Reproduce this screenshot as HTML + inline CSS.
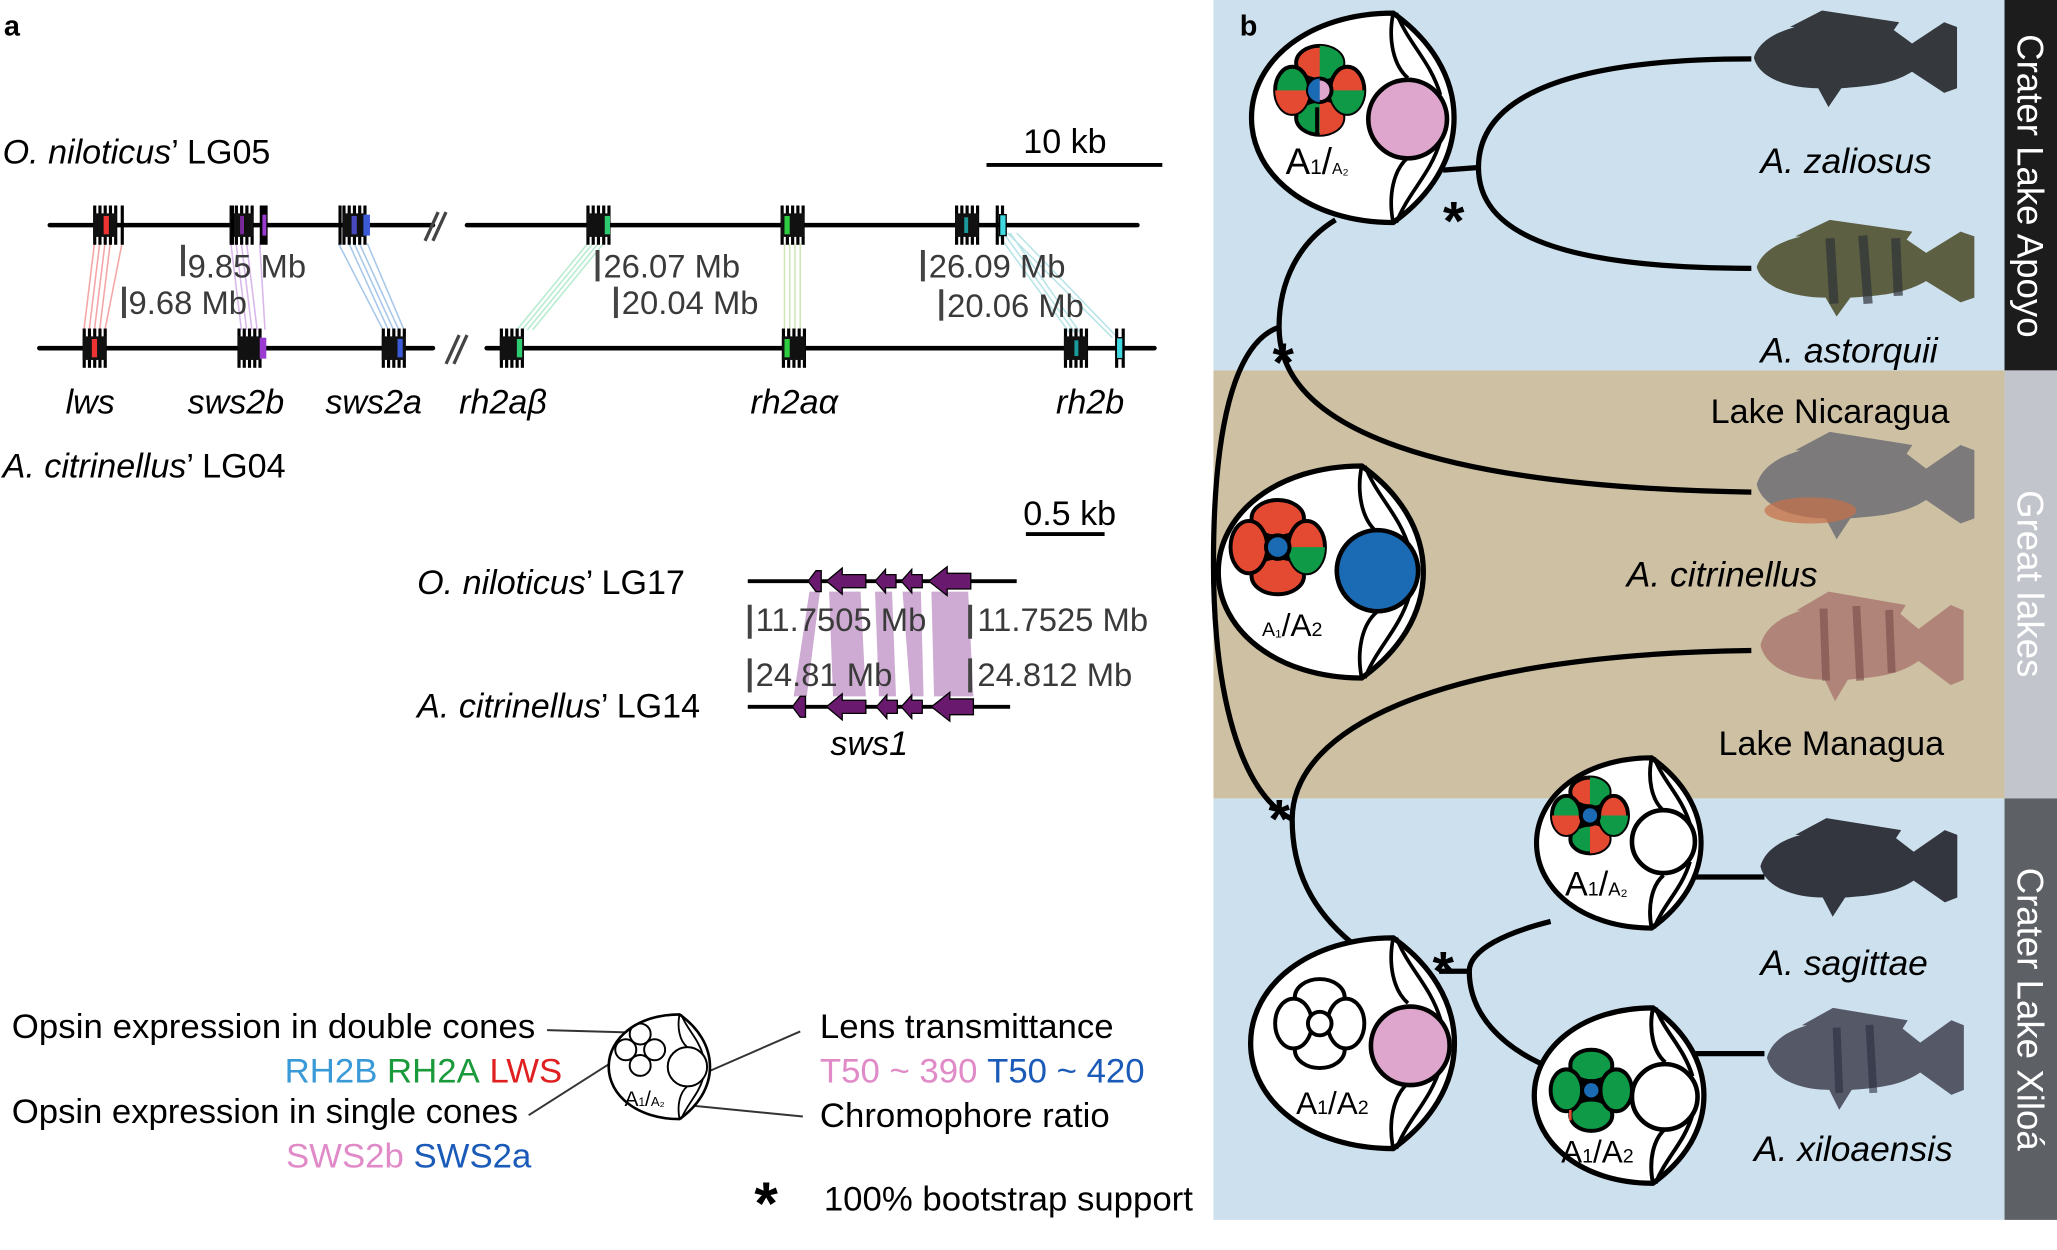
<!DOCTYPE html>
<html><head><meta charset="utf-8"><style>
html,body{margin:0;padding:0;background:#fff;}
svg{display:block;}
text{font-family:"Liberation Sans",sans-serif;}
</style></head><body>
<svg width="2057" height="1250" viewBox="0 0 1568 955" preserveAspectRatio="none" xmlns="http://www.w3.org/2000/svg">
<defs>
<g id="cl">
<rect x="-9" y="-15" width="2.4" height="30" fill="#000"/>
<rect x="-5" y="-15" width="2.4" height="30" fill="#000"/>
<rect x="-1" y="-15" width="2.4" height="30" fill="#000"/>
<rect x="3" y="-15" width="2.4" height="30" fill="#000"/>
<rect x="7" y="-15" width="2.4" height="30" fill="#000"/>
<rect x="-9" y="-9" width="18" height="18" fill="#111"/>
</g>
<path id="eyeo" d="M0,-1 C-0.8,-1 -1.35,-0.55 -1.35,0 C-1.35,0.55 -0.8,1 0,1 C0.35,0.75 0.58,0.4 0.58,0 C0.58,-0.4 0.35,-0.75 0,-1 Z"/>
<path id="eyei" d="M0,-1 C-0.05,-0.75 0,-0.5 0.14,-0.38 M0.03,-1 C0.15,-0.7 0.35,-0.55 0.45,-0.22 M0,1 C-0.05,0.75 0,0.5 0.14,0.38 M0.03,1 C0.15,0.7 0.35,0.55 0.45,0.22"/>
<path id="fish" d="M2,40 C8,18 40,8 80,10 L110,16 L125,28 L150,10 L160,14 L160,66 L150,70 L125,52 C110,62 95,64 70,66 L60,82 L52,66 C30,66 6,58 2,40 Z M30,14 L55,0 L115,10 L110,18 Z"/>
</defs>

<!-- ================= PANEL A ================= -->
<text x="3" y="27" font-size="22" font-weight="bold">a</text>
<text x="2" y="125" font-size="26"><tspan font-style="italic">O. niloticus</tspan>’ LG05</text>
<text x="780" y="117" font-size="26">10 kb</text>
<line x1="752" y1="126" x2="886" y2="126" stroke="#000" stroke-width="3"/>

<g stroke-width="1.2" fill="none">
<g stroke="#f4a6a6"><path d="M72,186 L64,252 M76,186 L68,252 M80,186 L72,252 M84,186 L76,252 M93,186 L80,252"/></g>
<g stroke="#d9b8ea"><path d="M176,186 L184,252 M180,186 L188,252 M184,186 L192,252 M188,186 L196,252 M198,186 L202,252"/></g>
<g stroke="#a8c8ea"><path d="M258,186 L292,252 M266,186 L296,252 M270,186 L300,252 M274,186 L304,252 M280,186 L308,252"/></g>
<g stroke="#b8ecd0"><path d="M448,186 L394,252 M452,186 L398,252 M456,186 L402,252 M460,186 L406,252"/></g>
<g stroke="#cfe6b8"><path d="M598,186 L598,252 M602,186 L602,252 M606,186 L606,252 M610,186 L610,252"/></g>
<g stroke="#b8e4e8"><path d="M760,178 L818,258 M765,178 L822,258 M770,178 L826,258 M775,178 L852,258 M768,178 L848,258"/></g>
</g>

<g stroke="#000" stroke-width="3.5" stroke-linecap="round">
<line x1="38" y1="172" x2="330" y2="172"/>
<line x1="356" y1="172" x2="867" y2="172"/>
<line x1="30" y1="266" x2="330" y2="266"/>
<line x1="371" y1="266" x2="880" y2="266"/>
</g>
<g stroke="#444" stroke-width="2.5">
<line x1="324" y1="184" x2="334" y2="162"/><line x1="330" y1="184" x2="340" y2="162"/>
<line x1="340" y1="278" x2="350" y2="256"/><line x1="346" y1="278" x2="356" y2="256"/>
</g>

<use href="#cl" x="80" y="172"/><rect x="79" y="165" width="4" height="14" fill="#e33"/><rect x="92" y="157" width="2.4" height="30"/>
<use href="#cl" x="184" y="172"/><rect x="183" y="165" width="3" height="14" fill="#7a2a9a"/><rect x="198" y="157" width="6" height="30" fill="#000"/><rect x="200" y="164" width="3" height="16" fill="#9a3ad0"/><rect x="176" y="157" width="2.4" height="30"/>
<use href="#cl" x="270" y="172"/><rect x="268" y="165" width="4" height="14" fill="#4a4ac0"/><rect x="277" y="164" width="5" height="16" fill="#3a5ad8"/><rect x="258" y="157" width="2.4" height="30"/>
<use href="#cl" x="456" y="172"/><rect x="461" y="165" width="4" height="14" fill="#2ecc71"/>
<use href="#cl" x="604" y="172"/><rect x="598" y="165" width="4" height="14" fill="#2ecc40"/>
<use href="#cl" x="737" y="172"/><rect x="735" y="166" width="3" height="12" fill="#1a9a9a"/>
<rect x="759" y="157" width="2.4" height="30"/><rect x="763" y="157" width="2.4" height="30"/><rect x="762" y="164" width="5" height="16" fill="#40d8e0" stroke="#000" stroke-width="1"/>
<use href="#cl" x="72" y="266"/><rect x="70" y="259" width="4" height="14" fill="#e33"/>
<use href="#cl" x="190" y="266"/><rect x="198" y="258" width="5" height="16" fill="#9a3ad0"/>
<use href="#cl" x="300" y="266"/><rect x="303" y="259" width="4" height="14" fill="#3a5ad8"/>
<use href="#cl" x="390" y="266"/><rect x="394" y="259" width="4" height="14" fill="#2ecc71"/>
<use href="#cl" x="605" y="266"/><rect x="598" y="259" width="4" height="14" fill="#2ecc40"/>
<use href="#cl" x="820" y="266"/><rect x="819" y="260" width="3" height="12" fill="#1a9a9a"/>
<rect x="850" y="251" width="2.4" height="30"/><rect x="855" y="251" width="2.4" height="30"/><rect x="851" y="258" width="5" height="16" fill="#40d8e0" stroke="#000" stroke-width="1"/>

<g font-size="25" fill="#3a3a3a">
<rect x="138" y="187" width="3" height="24" fill="#444"/><text x="143" y="212">9.85 Mb</text>
<rect x="93" y="219" width="3" height="24" fill="#444"/><text x="98" y="240">9.68 Mb</text>
<rect x="454" y="191" width="3" height="24" fill="#444"/><text x="460" y="212">26.07 Mb</text>
<rect x="468" y="219" width="3" height="24" fill="#444"/><text x="474" y="240">20.04 Mb</text>
<rect x="702" y="191" width="3" height="24" fill="#444"/><text x="708" y="212">26.09 Mb</text>
<rect x="716" y="221" width="3" height="24" fill="#444"/><text x="722" y="242">20.06 Mb</text>
</g>
<g font-size="26" font-style="italic">
<text x="50" y="316">lws</text>
<text x="143" y="316">sws2b</text>
<text x="248" y="316">sws2a</text>
<text x="350" y="316">rh2aβ</text>
<text x="572" y="316">rh2aα</text>
<text x="805" y="316">rh2b</text>
</g>
<text x="2" y="365" font-size="26"><tspan font-style="italic">A. citrinellus</tspan>’ LG04</text>

<text x="780" y="401" font-size="26">0.5 kb</text>
<line x1="782" y1="408" x2="842" y2="408" stroke="#000" stroke-width="3"/>
<text x="318" y="454" font-size="26"><tspan font-style="italic">O. niloticus</tspan>’ LG17</text>
<text x="318" y="548" font-size="26"><tspan font-style="italic">A. citrinellus</tspan>’ LG14</text>
<g fill="#c9a2cf" opacity="0.9">
<polygon points="617,452 625,452 615,532 605,532"/>
<polygon points="632,452 656,452 660,532 635,532"/>
<polygon points="667,452 680,452 683,532 670,532"/>
<polygon points="688,452 702,452 704,532 694,532"/>
<polygon points="710,452 738,452 742,532 712,532"/>
</g>
<line x1="570" y1="444" x2="775" y2="444" stroke="#000" stroke-width="3"/>
<line x1="570" y1="540" x2="770" y2="540" stroke="#000" stroke-width="3"/>
<g fill="#6a1a6e" stroke="#000" stroke-width="1">
<polygon points="616,444 622,436 626,436 626,452 622,452"/>
<polygon points="630,444 642,434 642,439 660,439 660,449 642,449 642,454"/>
<polygon points="667,444 675,435 675,439 683,439 683,449 675,449 675,453"/>
<polygon points="687,444 695,435 695,439 703,439 703,449 695,449 695,453"/>
<polygon points="708,444 722,433 722,438 740,438 740,450 722,450 722,455"/>
<polygon points="604,540 610,532 614,532 614,548 610,548"/>
<polygon points="630,540 642,530 642,535 660,535 660,545 642,545 642,550"/>
<polygon points="668,540 676,531 676,535 684,535 684,545 676,545 676,549"/>
<polygon points="687,540 695,531 695,535 703,535 703,545 695,545 695,549"/>
<polygon points="710,540 724,529 724,534 742,534 742,546 724,546 724,551"/>
</g>
<g font-size="25" fill="#3a3a3a">
<rect x="570" y="462" width="3" height="26" fill="#444"/><text x="576" y="482">11.7505 Mb</text>
<rect x="738" y="462" width="3" height="26" fill="#444"/><text x="745" y="482">11.7525 Mb</text>
<rect x="570" y="503" width="3" height="26" fill="#444"/><text x="576" y="524">24.81 Mb</text>
<rect x="738" y="503" width="3" height="26" fill="#444"/><text x="745" y="524">24.812 Mb</text>
</g>
<text x="633" y="577" font-size="26" font-style="italic">sws1</text>

<g font-size="26.5">
<text x="9" y="793" textLength="399">Opsin expression in double cones</text>
<text x="217" y="827"><tspan fill="#3a9ad8">RH2B</tspan> <tspan fill="#1a9a3a">RH2A</tspan> <tspan fill="#e02020">LWS</tspan></text>
<text x="9" y="858" textLength="386">Opsin expression in single cones</text>
<text x="218" y="892"><tspan fill="#e08ac8">SWS2b</tspan> <tspan fill="#1a5ab8">SWS2a</tspan></text>
<text x="625" y="793">Lens transmittance</text>
<text x="625" y="827"><tspan fill="#e08ac8">T50 ~ 390</tspan>  <tspan fill="#1a5ab8">T50 ~ 420</tspan></text>
<text x="625" y="861">Chromophore ratio</text>
<text x="628" y="925">100% bootstrap support</text>
</g>
<text x="575" y="935" font-size="46" font-weight="bold">*</text>
<g stroke="#333" stroke-width="1.5" fill="none">
<line x1="417" y1="787" x2="487" y2="789"/>
<line x1="403" y1="852" x2="483" y2="801"/>
<line x1="610" y1="788" x2="530" y2="823"/>
<line x1="612" y1="853" x2="510" y2="843"/>
</g>
<g transform="translate(518,815) scale(40)">
<use href="#eyeo" fill="#fff" stroke="#000" stroke-width="0.05"/>
<use href="#eyei" fill="none" stroke="#000" stroke-width="0.035"/>
</g>
<g fill="none" stroke="#000" stroke-width="1.5">
<circle cx="524" cy="815" r="15"/>
<circle cx="488" cy="790" r="8"/><circle cx="477" cy="802" r="8"/><circle cx="499" cy="802" r="8"/><circle cx="488" cy="814" r="8"/>
</g>
<text x="476" y="845" font-size="16">A<tspan font-size="9">1</tspan>/<tspan font-size="10">A₂</tspan></text>

<!-- ================= PANEL B ================= -->
<rect x="925" y="0" width="603" height="283" fill="#cde0ee"/>
<rect x="925" y="283" width="603" height="327" fill="#cdc0a3"/>
<rect x="925" y="610" width="603" height="322" fill="#cde0ee"/>
<rect x="1528" y="0" width="40" height="283" fill="#1c1c1c"/>
<rect x="1528" y="283" width="40" height="327" fill="#c2c6cc"/>
<rect x="1528" y="610" width="40" height="322" fill="#5d6166"/>
<g font-size="28" fill="#fff">
<text transform="translate(1538,142) rotate(90)" text-anchor="middle">Crater Lake Apoyo</text>
<text transform="translate(1538,446) rotate(90)" text-anchor="middle">Great lakes</text>
<text transform="translate(1538,771) rotate(90)" text-anchor="middle">Crater Lake Xiloá</text>
</g>
<text x="945" y="27" font-size="22" font-weight="bold">b</text>

<g fill="none" stroke="#000" stroke-width="4">
<path d="M1100,130 L1127,128"/>
<path d="M1335,45 C1180,45 1127,80 1127,128 C1127,175 1180,205 1335,205"/>
<path d="M1018,168 C990,185 975,215 975,250 C975,330 1100,372 1335,376"/>
<path d="M975,250 C940,262 925,330 925,430 C925,530 945,605 985,626"/>
<path d="M1030,720 C1000,695 985,665 985,626 C985,555 1100,500 1335,497"/>
<path d="M1097,742 L1120,742"/>
<path d="M1182,704 C1150,712 1120,725 1120,742 C1120,775 1145,800 1180,815"/>
<path d="M1290,670 L1345,670"/>
<path d="M1288,805 L1345,805"/>
</g>
<g font-size="42" font-weight="bold">
<text x="1100" y="183">*</text>
<text x="970" y="291">*</text>
<text x="967" y="640">*</text>
<text x="1092" y="756">*</text>
</g>

<!-- eyes -->
<g transform="translate(1062,90) scale(80)"><use href="#eyeo" fill="#fff" stroke="#000" stroke-width="0.05"/><use href="#eyei" fill="none" stroke="#000" stroke-width="0.035"/></g>
<circle cx="1073" cy="91" r="30" fill="#dea6cc" stroke="#000" stroke-width="3.5"/>

<g transform="translate(1038,437) scale(81)"><use href="#eyeo" fill="#fff" stroke="#000" stroke-width="0.05"/><use href="#eyei" fill="none" stroke="#000" stroke-width="0.035"/></g>
<circle cx="1050" cy="436" r="31" fill="#1a6ab4" stroke="#000" stroke-width="3.5"/>

<g transform="translate(1062,797) scale(80.5)"><use href="#eyeo" fill="#fff" stroke="#000" stroke-width="0.05"/><use href="#eyei" fill="none" stroke="#000" stroke-width="0.035"/></g>
<circle cx="1075" cy="799" r="30" fill="#dea6cc" stroke="#000" stroke-width="3.5"/>

<g transform="translate(1259,644) scale(65)"><use href="#eyeo" fill="#fff" stroke="#000" stroke-width="0.06"/><use href="#eyei" fill="none" stroke="#000" stroke-width="0.045"/></g>
<circle cx="1268" cy="643" r="24" fill="#fff" stroke="#000" stroke-width="3.5"/>

<g transform="translate(1260,837) scale(67)"><use href="#eyeo" fill="#fff" stroke="#000" stroke-width="0.06"/><use href="#eyei" fill="none" stroke="#000" stroke-width="0.045"/></g>
<circle cx="1269" cy="838" r="25" fill="#fff" stroke="#000" stroke-width="3.5"/>

<!-- petals -->
<g stroke="#000" stroke-width="3">
<g transform="translate(6,-3)">
<rect x="982" y="54" width="36" height="36" fill="#000"/>
<ellipse cx="1000" cy="51" rx="18" ry="13" fill="#e44a32"/><path d="M1000,38 A18,13 0 0 1 1000,64 Z" fill="#0e9a46" stroke="none"/>
<ellipse cx="1000" cy="93" rx="18" ry="13" fill="#0e9a46"/><path d="M1000,80 A18,13 0 0 1 1000,106 Z" fill="#e44a32" stroke="none"/>
<ellipse cx="979" cy="72" rx="13" ry="18" fill="#0e9a46"/><path d="M966,72 A13,18 0 0 0 992,72 Z" fill="#e44a32" stroke="none"/>
<ellipse cx="1021" cy="72" rx="13" ry="18" fill="#e44a32"/><path d="M1008,72 A13,18 0 0 0 1034,72 Z" fill="#0e9a46" stroke="none"/>
<circle cx="1000" cy="72" r="9" fill="#dea6cc"/><path d="M1000,63 A9,9 0 0 0 1000,81 Z" fill="#1a6ab4" stroke="none"/>
<line x1="998" y1="85" x2="998" y2="106" stroke-width="3"/>
</g>
<rect x="956" y="400" width="36" height="36" fill="#000"/>
<ellipse cx="974" cy="396" rx="20" ry="14" fill="#e44a32"/>
<ellipse cx="974" cy="440" rx="20" ry="14" fill="#e44a32"/>
<ellipse cx="952" cy="418" rx="14" ry="20" fill="#e44a32"/>
<ellipse cx="996" cy="418" rx="14" ry="20" fill="#e44a32"/><path d="M982,418 A14,20 0 0 0 1010,418 Z" fill="#0e9a46" stroke="none"/>
<circle cx="974" cy="418" r="9" fill="#1a6ab4"/>
<rect x="1197" y="608" width="30" height="30" fill="#000"/>
<ellipse cx="1212" cy="605" rx="15" ry="11" fill="#e44a32"/><path d="M1212,594 A15,11 0 0 1 1212,616 Z" fill="#0e9a46" stroke="none"/>
<ellipse cx="1212" cy="641" rx="15" ry="11" fill="#0e9a46"/><path d="M1212,630 A15,11 0 0 1 1212,652 Z" fill="#e44a32" stroke="none"/>
<ellipse cx="1194" cy="623" rx="11" ry="15" fill="#0e9a46"/><path d="M1183,623 A11,15 0 0 0 1205,623 Z" fill="#e44a32" stroke="none"/>
<ellipse cx="1230" cy="623" rx="11" ry="15" fill="#e44a32"/><path d="M1219,623 A11,15 0 0 0 1241,623 Z" fill="#0e9a46" stroke="none"/>
<circle cx="1212" cy="623" r="7" fill="#1a6ab4"/>
<g transform="translate(6,-8)">
<rect x="983" y="773" width="34" height="34" fill="#000"/>
<ellipse cx="1000" cy="770" rx="19" ry="14" fill="#fff"/>
<ellipse cx="1000" cy="810" rx="19" ry="14" fill="#fff"/>
<ellipse cx="980" cy="790" rx="14" ry="19" fill="#fff"/>
<ellipse cx="1020" cy="790" rx="14" ry="19" fill="#fff"/>
<circle cx="1000" cy="790" r="9" fill="#fff"/>
</g>
<rect x="1197" y="817" width="32" height="32" fill="#000"/>
<ellipse cx="1213" cy="814" rx="16" ry="12" fill="#0e9a46"/>
<ellipse cx="1213" cy="852" rx="16" ry="12" fill="#0e9a46"/>
<ellipse cx="1194" cy="833" rx="12" ry="16" fill="#0e9a46"/>
<ellipse cx="1232" cy="833" rx="12" ry="16" fill="#0e9a46"/>
<circle cx="1213" cy="833" r="7" fill="#1a6ab4"/>
</g>
<rect x="1196" y="848" width="2" height="8" fill="#e44a32"/>
<g font-size="28">
<text x="980" y="133">A<tspan font-size="16">1</tspan>/<tspan font-size="12">A₂</tspan></text>
<text x="962" y="486" font-size="24"><tspan font-size="15">A₁</tspan>/A<tspan font-size="15">2</tspan></text>
<text x="988" y="851" font-size="24">A<tspan font-size="15">1</tspan>/A<tspan font-size="15">2</tspan></text>
<text x="1193" y="684" font-size="26">A<tspan font-size="15">1</tspan>/<tspan font-size="14">A₂</tspan></text>
<text x="1190" y="888" font-size="24">A<tspan font-size="15">1</tspan>/A<tspan font-size="15">2</tspan></text>
</g>

<!-- fish -->
<use href="#fish" transform="translate(1335,8) scale(0.98,0.9)" fill="#35383c"/>
<use href="#fish" transform="translate(1337,168) scale(1.05,0.9)" fill="#5d5f42"/>
<g stroke="#2e3338" stroke-width="7" opacity="0.7"><line x1="1395" y1="182" x2="1398" y2="232"/><line x1="1420" y1="180" x2="1424" y2="232"/><line x1="1445" y1="182" x2="1447" y2="226"/></g>
<use href="#fish" transform="translate(1337,330) scale(1.05,1.0)" fill="#7c7a7a"/>
<ellipse cx="1380" cy="390" rx="35" ry="10" fill="#c8704a" opacity="0.7"/>
<use href="#fish" transform="translate(1340,452) scale(0.98,1.02)" fill="#b08478"/>
<g stroke="#7a4a48" stroke-width="6" opacity="0.6"><line x1="1390" y1="465" x2="1392" y2="520"/><line x1="1415" y1="463" x2="1418" y2="520"/><line x1="1440" y1="466" x2="1442" y2="514"/></g>
<use href="#fish" transform="translate(1340,625) scale(0.95,0.92)" fill="#33353f"/>
<use href="#fish" transform="translate(1345,770) scale(0.95,0.95)" fill="#555867"/>
<g stroke="#2a2d40" stroke-width="6" opacity="0.6"><line x1="1400" y1="785" x2="1402" y2="835"/><line x1="1425" y1="783" x2="1428" y2="835"/></g>

<g font-size="27" font-style="italic">
<text x="1342" y="132">A. zaliosus</text>
<text x="1342" y="277">A. astorquii</text>
<text x="1240" y="448">A. citrinellus</text>
<text x="1342" y="745">A. sagittae</text>
<text x="1337" y="887">A. xiloaensis</text>
</g>
<g font-size="26">
<text x="1304" y="323">Lake Nicaragua</text>
<text x="1310" y="577">Lake Managua</text>
</g>
</svg>
</body></html>
